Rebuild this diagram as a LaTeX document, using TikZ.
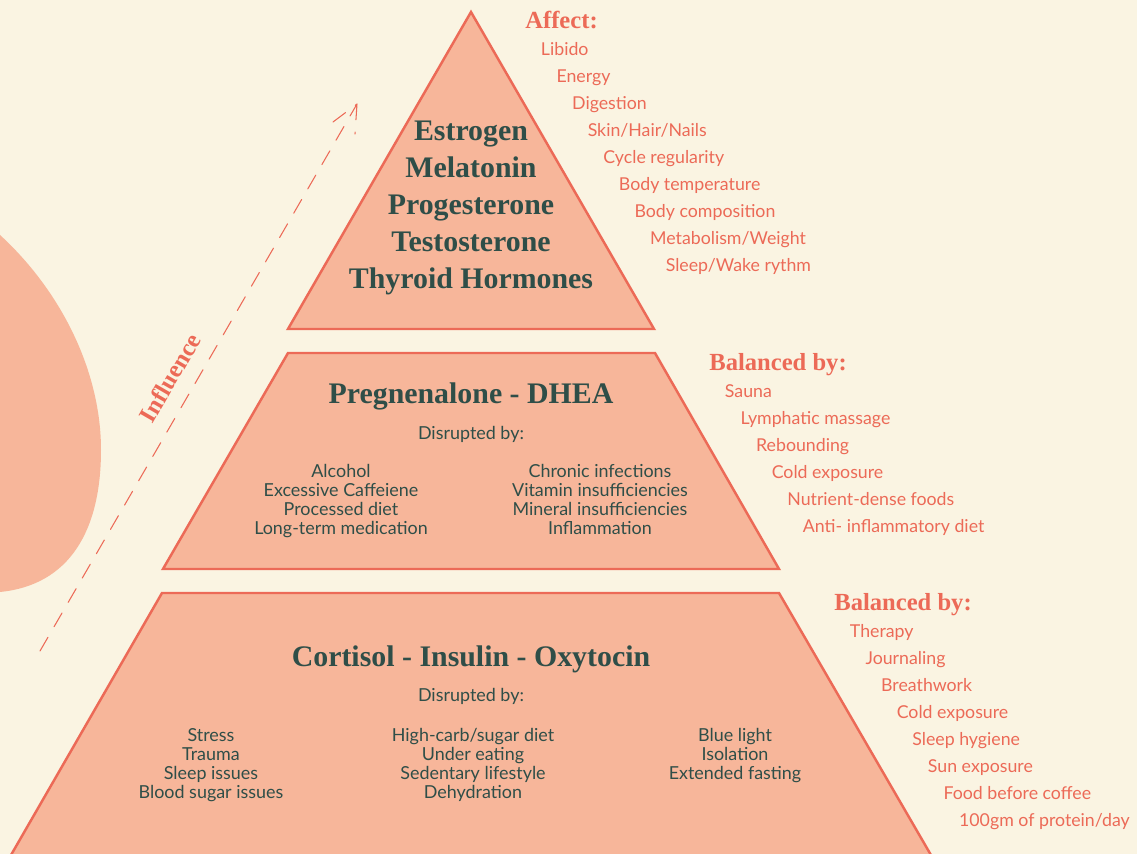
\documentclass[tikz,border=0pt]{standalone}
\usepackage{fontspec}
\setmainfont{Lato}
\newfontfamily\titlefont{Liberation Serif}
\definecolor{cream}{HTML}{FAF4E2}
\definecolor{salmon}{HTML}{F7B69A}
\definecolor{coral}{HTML}{EC6A57}
\definecolor{slate}{HTML}{2F4E48}
\tikzset{
  level/.style={fill=salmon, draw=coral, line width=1.4pt, line join=miter},
  hormone/.style={font=\titlefont\bfseries\fontsize{17}{21}\selectfont, text=slate, align=center, inner sep=0pt},
  heading/.style={font=\titlefont\bfseries\fontsize{14}{16}\selectfont, text=coral, anchor=base west, inner sep=0pt},
  effect/.style={font=\fontsize{10.1}{11}\selectfont, text=coral, anchor=base west, inner sep=0pt},
  cause/.style={font=\fontsize{10.2}{10.8}\selectfont, text=slate, align=center, inner sep=0pt},
  influence/.style={draw=coral, line width=0.6pt, dash pattern=on 9pt off 7pt}
}
\begin{document}
\begin{tikzpicture}[x=0.02cm, y=-0.02cm, line join=round, line cap=round]
  \fill[cream] (0,0) rectangle (1137,854);
  \useasboundingbox (0,0) rectangle (1137,854);
  \clip (0,0) rectangle (1137,854);
  \fill[salmon] (0,235) .. controls (60,290) and (101,370) .. (101,450) .. controls (101,530) and (70,585) .. (0,592) -- (-10,592) -- (-10,235) -- cycle;

  \draw[level] (471,12) -- (654,329) -- (288,329) -- cycle;
  \draw[level] (288,353) -- (655,353) -- (779,569) -- (163,569) -- cycle;
  \draw[level] (162,593) -- (779,593) -- (935,862) -- (7,862) -- cycle;

  \coordinate (tail) at (40,651);
  \coordinate (tip) at (357,104);
  \draw[influence] (tail) -- (tip) -- ++(-24,18) (tip) -- ++(-2,30);
  \node[heading, anchor=center, rotate=60, font=\titlefont\bfseries\fontsize{14}{16}\selectfont] (infl) at (170,378) {Influence};

  \node[hormone] (top) at (471,208) {Estrogen\\Melatonin\\Progesterone\\Testosterone\\Thyroid Hormones};
  \node[heading] (affect) at (525,29) {Affect:};
  \foreach \t [count=\i] in {Libido,Energy,Digestion,Skin/Hair/Nails,Cycle regularity,Body temperature,Body composition,Metabolism/Weight,Sleep/Wake rythm}
    \node[effect] (aff\i) at (525+15.6*\i,29+27*\i) {\t};

  \node[hormone] (mid) at (471,396) {Pregnenalone - DHEA};
  \node[cause] (middis) at (471,434) {Disrupted by:};
  \node[cause, anchor=north] (midl) at (341,464) {Alcohol\\Excessive Caffeiene\\Processed diet\\Long-term medication};
  \node[cause, anchor=north] (midr) at (600,464) {Chronic infections\\Vitamin insufficiencies\\Mineral insufficiencies\\Inflammation};
  \node[heading] (midbal) at (709,371) {Balanced by:};
  \foreach \t [count=\i] in {Sauna,Lymphatic massage,Rebounding,Cold exposure,Nutrient-dense foods,Anti- inflammatory diet}
    \node[effect] (mb\i) at (709+15.6*\i,371+27*\i) {\t};

  \node[hormone] (low) at (471,659) {Cortisol - Insulin - Oxytocin};
  \node[cause] (lowdis) at (471,696) {Disrupted by:};
  \node[cause, anchor=north] (lowl) at (211,728) {Stress\\Trauma\\Sleep issues\\Blood sugar issues};
  \node[cause, anchor=north] (lowm) at (473,728) {High-carb/sugar diet\\Under eating\\Sedentary lifestyle\\Dehydration};
  \node[cause, anchor=north] (lowr) at (735,728) {Blue light\\Isolation\\Extended fasting};
  \node[heading] (lowbal) at (834,611) {Balanced by:};
  \foreach \t [count=\i] in {Therapy,Journaling,Breathwork,Cold exposure,Sleep hygiene,Sun exposure,Food before coffee,100gm of protein/day}
    \node[effect] (lb\i) at (834+15.6*\i,611+27*\i) {\t};
\end{tikzpicture}
\end{document}
